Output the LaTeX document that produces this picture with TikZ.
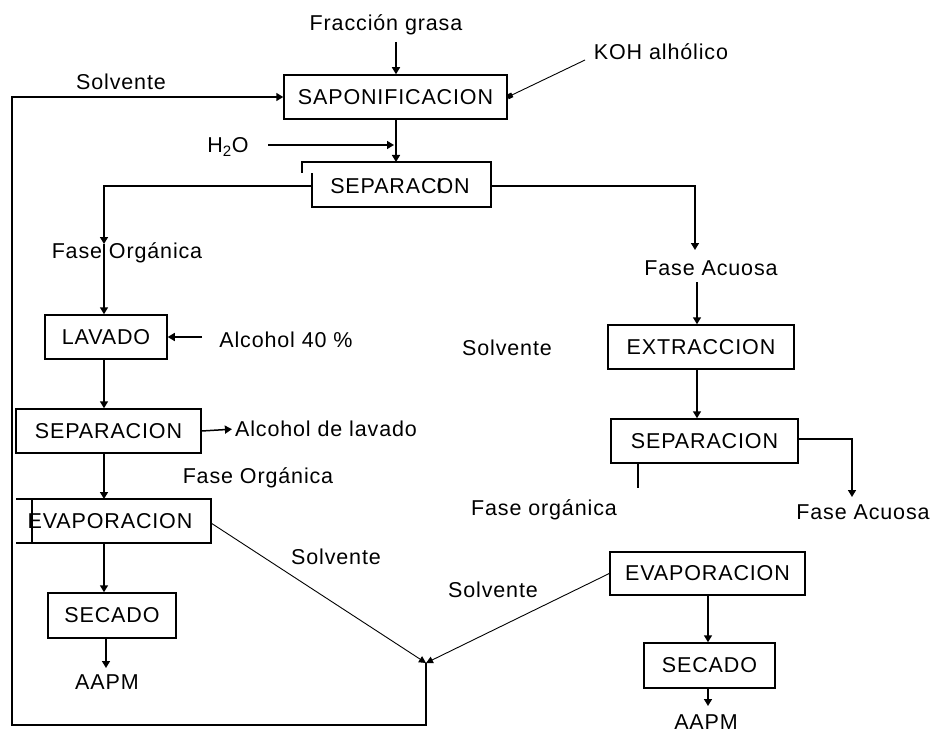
\documentclass[tikz,border=0pt]{standalone}
\usepackage{fontspec}
\setmainfont{Liberation Sans}[LetterSpace=4]
\usetikzlibrary{arrows.meta}
\newcommand\fs{\fontsize{21.5}{24}\selectfont}
\tikzset{
  box/.style={draw, line width=1.5pt, inner sep=0pt, font=\fs},
  lbl/.style={inner sep=0pt, font=\fs},
  ln/.style={line width=1.5pt},
  arr/.style={ln, -{Triangle[width=8pt,length=7pt]}},
  diag/.style={line width=0.9pt},
}
\begin{document}
\begin{tikzpicture}[x=1pt,y=-1pt]
\useasboundingbox (0,0) rectangle (935,733);
% labels
\node[lbl] (fg) at (386,25) {Fracción grasa};
\node[lbl] (koh) at (661,52) {KOH alhólico};
\node[lbl] (solv1) at (121,82) {Solvente};
\node[lbl] (h2o) at (228,147) {H\textsubscript{2}O};
\node[lbl] (foL) at (127,253) {Fase Orgánica};
\node[lbl] (faR) at (711,268) {Fase Acuosa};
\node[lbl] (alc40) at (286,340) {Alcohol 40 \%};
\node[lbl] (solvm) at (507,348) {Solvente};
\node[lbl] (adl) at (326,429) {Alcohol de lavado};
\node[lbl] (foM) at (258,478) {Fase Orgánica};
\node[lbl] (foR) at (544,510) {Fase orgánica};
\node[lbl] (faRR) at (863,512) {Fase Acuosa};
\node[lbl] (solvd1) at (336,557) {Solvente};
\node[lbl] (solvd2) at (493,590) {Solvente};
\node[lbl] (aapm1) at (107,682) {AAPM};
\node[lbl] (aapm2) at (706,722) {AAPM};
% boxes
\node[box, minimum width=223, minimum height=44] (sap) at (395.5,97) {SAPONIFICACION};
\node[lbl] (sep1) at (400,186) {SEPARAC\rlap{I}ON};
\node[box, minimum width=122, minimum height=44] (lav) at (106,337) {LAVADO};
\node[box, minimum width=185, minimum height=44] (sep2) at (108.5,431) {SEPARACION};
\node[lbl] (ev1) at (110,521) {EVAPORACION};
\node[box, minimum width=128, minimum height=45] (sec1) at (112,615.5) {SECADO};
\node[box, minimum width=186, minimum height=44] (ext) at (701,347) {EXTRACCION};
\node[box, minimum width=187, minimum height=44] (sep3) at (704.5,441) {SEPARACION};
\node[box, minimum width=195, minimum height=43] (ev2) at (707.5,573.5) {EVAPORACION};
\node[box, minimum width=131, minimum height=45] (sec2) at (709.5,665.5) {SECADO};
% irregular outlines
\coordinate (s1a) at (302,173);
\coordinate (s1b) at (302,162);
\coordinate (s1c) at (491,162);
\coordinate (s1d) at (491,207);
\coordinate (s1e) at (312,207);
\coordinate (s1f) at (312,173);
\draw[ln] (s1a) -- (s1b) -- (s1c) -- (s1d) -- (s1e) -- (s1f);
\coordinate (e1a) at (16,499);
\coordinate (e1b) at (211,499);
\coordinate (e1c) at (211,543);
\coordinate (e1d) at (16,543);
\coordinate (e1e) at (32,499);
\coordinate (e1f) at (32,543);
\draw[ln] (e1a) -- (e1b) -- (e1c) -- (e1d);
\draw[ln] (e1e) -- (e1f);
% connectors
\coordinate (fgb) at (396,42);
\draw[arr] (fgb) -- (fgb |- sap.north);
\coordinate (kohs) at (585,60);
\draw[diag, -{Square[length=5pt,width=5pt]}] (kohs) -- (sap.east);
\coordinate (sapb) at (396,119);
\draw[arr] (sapb) -- (sapb |- s1b);
\coordinate (h2oa) at (268,145);
\coordinate (h2ob) at (394,145);
\draw[arr] (h2oa) -- (h2ob);
\coordinate (s1l) at (312,186);
\coordinate (tipL) at (104,244);
\draw[arr] (s1l) -| (tipL);
\draw[arr] (tipL) -- (tipL |- lav.north);
\coordinate (s1r) at (491,186);
\coordinate (tipR) at (695,250);
\draw[arr] (s1r) -| (tipR);
\coordinate (faRb) at (697,282);
\draw[arr] (faRb) -- (faRb |- ext.north);
\coordinate (lavb) at (104,359);
\draw[arr] (lavb) -- (lavb |- sep2.north);
\coordinate (a40) at (202,337);
\draw[arr] (a40) -- (lav.east);
\draw[arr, shorten >=3pt] (sep2.east) -- (adl.west);
\coordinate (sep2b) at (104,453);
\draw[arr] (sep2b) -- (sep2b |- e1a);
\coordinate (ev1b) at (104,543);
\draw[arr] (ev1b) -- (ev1b |- sec1.north);
\coordinate (sec1b) at (106,638);
\draw[arr] (sec1b) -- (106,668);
\coordinate (extb) at (697,369);
\draw[arr] (extb) -- (extb |- sep3.north);
\coordinate (s3r) at (798,439);
\coordinate (tipRR) at (852,497);
\draw[arr] (s3r) -| (tipRR);
\coordinate (s3b) at (638,463);
\coordinate (s3bb) at (638,488);
\draw[ln] (s3b) -- (s3bb);
\coordinate (ev2b) at (708,595);
\draw[arr] (ev2b) -- (ev2b |- sec2.north);
\coordinate (sec2b) at (708,688);
\draw[arr] (sec2b) -- (708,706);
% solvent recycle
\coordinate (ev1r) at (211,523);
\coordinate (J) at (426,663);
\coordinate (rcb) at (12,725);
\draw[diag, -{Triangle[width=7pt,length=7pt]}] (ev1r) -- (J);
\draw[diag, -{Triangle[width=7pt,length=7pt]}] (ev2.west) -- (J);
\draw[arr] (J) |- (rcb) |- (sap.west);
\end{tikzpicture}
\end{document}
